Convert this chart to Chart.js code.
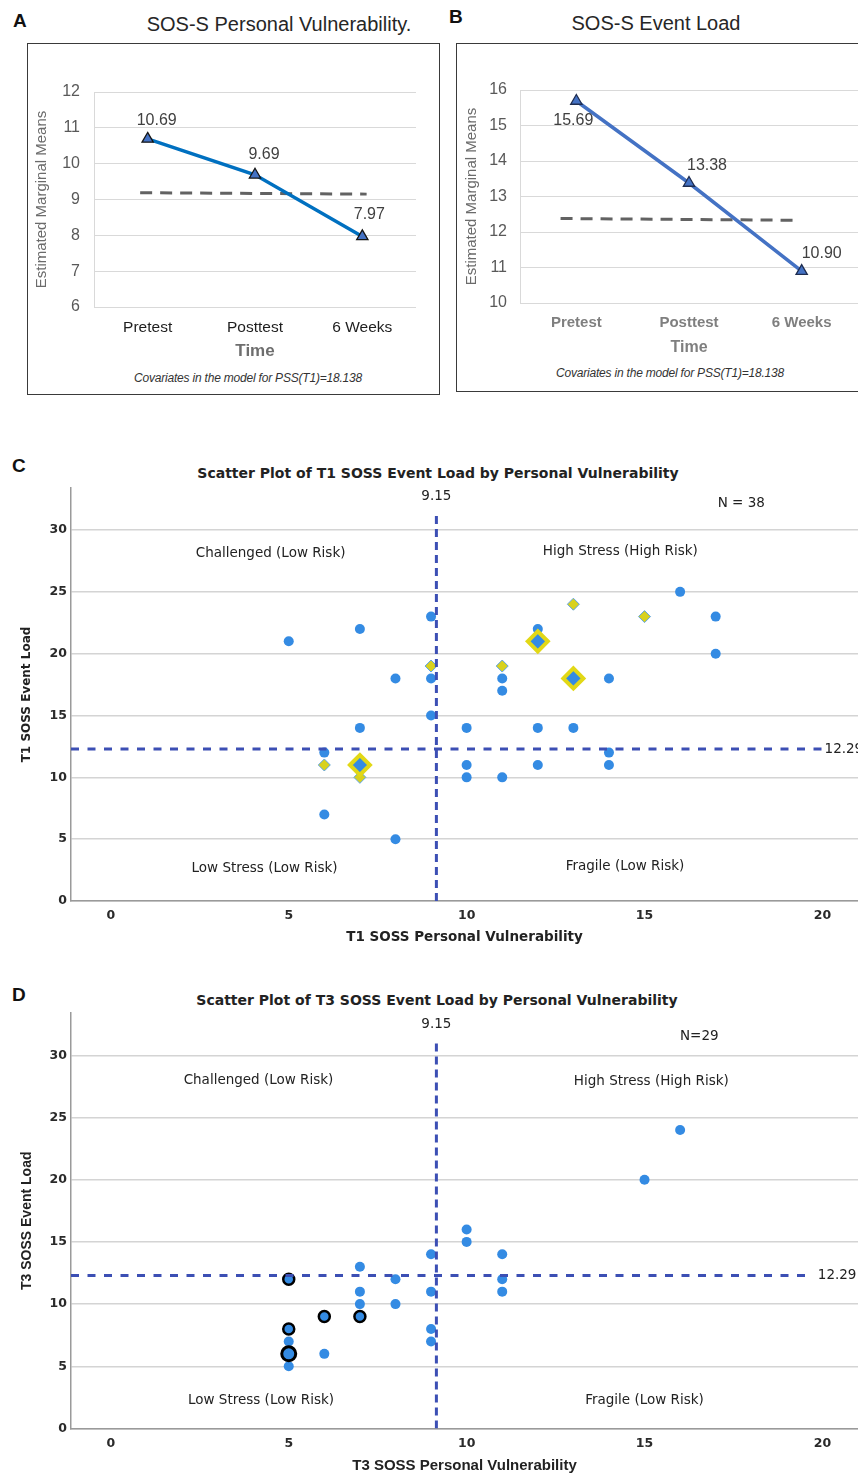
<!DOCTYPE html>
<html>
<head>
<meta charset="utf-8">
<script src="https://cdn.jsdelivr.net/npm/chart.js@4.4.1/dist/chart.umd.min.js"></script>
<style>
html, body { margin: 0; padding: 0; overflow: hidden; background: #fff; }
body { width: 858px; height: 1482px; position: relative; font-family: "Liberation Sans", Arial, sans-serif; }
canvas { position: absolute; }
.box { position: absolute; border: 1.5px solid #3a3a3a; box-sizing: border-box; }
.txt { position: absolute; transform: translate(-50%, -50%); white-space: nowrap; color: #222; }
.letter { position: absolute; font: bold 19px "Liberation Sans", Arial, sans-serif; color: #111; }
.ptitle { font-size: 20px; color: #262626; }
.cov { font-size: 12px; font-style: italic; color: #333; letter-spacing: -0.2px; }
.stitle { font: bold 14px "DejaVu Sans", sans-serif; color: #222; }
</style>
</head>
<body>

<div class="box" style="left:27px;top:43px;width:413px;height:352px"></div>
<div class="box" style="left:456px;top:43px;width:430px;height:349px"></div>

<div class="letter" style="left:13px;top:10px">A</div>
<div class="letter" style="left:449px;top:6px">B</div>
<div class="letter" style="left:12px;top:455px">C</div>
<div class="letter" style="left:12px;top:984px">D</div>

<div class="txt ptitle" style="left:279px;top:24px">SOS-S Personal Vulnerability.</div>
<div class="txt ptitle" style="left:656px;top:23px">SOS-S Event Load</div>
<div class="txt cov" style="left:248px;top:378px">Covariates in the model for PSS(T1)=18.138</div>
<div class="txt cov" style="left:670px;top:373px">Covariates in the model for PSS(T1)=18.138</div>
<div class="txt stitle" style="left:438px;top:473px">Scatter Plot of T1 SOSS Event Load by Personal Vulnerability</div>
<div class="txt stitle" style="left:437px;top:1000px">Scatter Plot of T3 SOSS Event Load by Personal Vulnerability</div>

<canvas id="chartA" width="410" height="350" style="left:28px;top:44px"></canvas>
<canvas id="chartB" width="401" height="346" style="left:457px;top:44px"></canvas>
<canvas id="chartC" width="858" height="490" style="left:0px;top:470px"></canvas>
<canvas id="chartD" width="858" height="487" style="left:0px;top:995px"></canvas>

<script>
// panels A and B: estimated marginal means
const timeLabels = ['Pretest', 'Posttest', '6 Weeks']
const vulnMeans = [10.69, 9.69, 7.97]
const loadMeans = [15.69, 13.38, 10.90]
// dashed reference lines (value at left end, right end)
const vulnRef = [9.19, 9.15]
const loadRef = [12.38, 12.33]
const ticksA = [6, 7, 8, 9, 10, 11, 12]
const ticksB = [10, 11, 12, 13, 14, 15, 16]

// panel C: T1 scatter (personal vulnerability, event load)
const t1Circles = [[5,21],[6,12],[6,7],[7,22],[7,14],[8,18],[8,5],[9,23],[9,18],[9,15],
  [10,14],[10,11],[10,10],[11,18],[11,17],[11,10],[12,22],[12,14],[12,11],[13,14],
  [14,18],[14,12],[14,11],[16,25],[17,23],[17,20]]
const t1Diamonds = [[6,11],[7,10],[9,19],[11,19],[13,24],[15,23]]
const t1BigDiamonds = [[7,11],[12,21],[13,18]]

// panel D: T3 scatter
const t3Circles = [[5,7],[5,5],[6,6],[7,13],[7,11],[7,10],[8,12],[8,10],[9,14],[9,11],
  [9,8],[9,7],[10,16],[10,15],[11,14],[11,12],[11,11],[15,20],[16,24]]
const t3Rings = [[5,12],[5,8],[6,9],[7,9]]
const t3BigRings = [[5,6]]

const pvMean = 9.15
const elMean = 12.29
const scatterTicksX = [0, 5, 10, 15, 20]
const scatterTicksY = [0, 5, 10, 15, 20, 25, 30]

Chart.defaults.font.family = '"Liberation Sans", Arial, sans-serif'

const pts = arr => arr.map(p => ({x: p[0], y: p[1]}))
const fixTicks = list => s => { s.ticks = list.map(v => ({value: v})) }
// force axis size and drop the edge padding chart.js adds for labels
const fitX = h => s => { s.height = h; s.paddingLeft = 0; s.paddingRight = 0 }
const fitY = w => s => { s.width = w; s.paddingTop = 0; s.paddingBottom = 0 }

// value labels next to the mean markers
const valueLabels = {
  id: 'valueLabels',
  afterDatasetsDraw(chart, args, opts) {
    const ctx = chart.ctx
    const meta = chart.getDatasetMeta(0)
    ctx.save()
    ctx.font = opts.font
    ctx.fillStyle = opts.color
    ctx.textAlign = 'center'
    ctx.textBaseline = 'middle'
    meta.data.forEach((pt, i) => {
      const v = chart.data.datasets[0].data[i]
      ctx.fillText(v.toFixed(2), pt.x + opts.offsets[i][0], pt.y + opts.offsets[i][1])
    })
    ctx.restore()
  }
}

// text placed in data coordinates of a scatter
const plotText = {
  id: 'plotText',
  afterDatasetsDraw(chart, args, opts) {
    const {ctx, scales} = chart
    ctx.save()
    ctx.fillStyle = opts.color
    ctx.textBaseline = 'middle'
    opts.items.forEach(it => {
      ctx.font = opts.font
      ctx.textAlign = it.align || 'center'
      ctx.fillText(it.text, scales.x.getPixelForValue(it.x), scales.y.getPixelForValue(it.y))
    })
    ctx.restore()
  }
}

function meansChart(id, values, ref, refSpan, yTicks, o) {
  return new Chart(document.getElementById(id), {
    type: 'line',
    data: {
      labels: timeLabels,
      datasets: [
        {
          xAxisID: 'x',
          data: values,
          borderColor: o.lineColor,
          borderWidth: 3.5,
          tension: 0,
          pointStyle: 'triangle',
          pointRadius: 6.5,
          pointBackgroundColor: '#4472c4',
          pointBorderColor: o.markerEdge,
          pointBorderWidth: 1.3
        },
        {
          xAxisID: 'xr',
          data: [{x: refSpan[0], y: ref[0]}, {x: refSpan[1], y: ref[1]}],
          borderColor: '#626262',
          borderWidth: 3,
          borderDash: [12, 8],
          pointRadius: 0
        }
      ]
    },
    options: {
      responsive: false,
      animation: false,
      events: [],
      layout: {autoPadding: false, padding: {top: o.padTop, right: o.padRight, left: 0, bottom: 0}},
      plugins: {
        legend: {display: false},
        tooltip: {enabled: false},
        valueLabels: {offsets: o.labelOffsets, font: '16px "Liberation Sans"', color: '#404040'}
      },
      scales: {
        x: {
          type: 'category',
          offset: true,
          grid: {display: false, drawTicks: false},
          border: {display: false},
          ticks: {color: o.xTickColor, font: o.xTickFont, padding: 11},
          title: {display: true, text: 'Time', color: o.timeColor, font: o.timeFont, padding: {top: 0, bottom: o.timePad}},
          afterFit: fitX(o.xHeight)
        },
        xr: {type: 'linear', display: false, min: 0, max: 3},
        y: {
          min: yTicks[0],
          max: yTicks[yTicks.length - 1],
          afterBuildTicks: fixTicks(yTicks),
          grid: {color: '#d9d9d9', drawTicks: false},
          border: {color: '#d9d9d9'},
          ticks: {color: '#595959', font: {size: 16}, padding: o.yTickPad},
          title: {display: true, text: 'Estimated Marginal Means', color: '#6b6b6b', font: {size: 15}, padding: {top: o.yTitlePad}},
          afterFit: fitY(o.yWidth)
        }
      }
    },
    plugins: [valueLabels]
  })
}

meansChart('chartA', vulnMeans, vulnRef, [0.43, 2.54], ticksA, {
  lineColor: 'rgb(0,112,192)', markerEdge: '#151515',
  padTop: 48, padRight: 22, xHeight: 87, yWidth: 66, yTickPad: 14, yTitlePad: 4.5,
  xTickColor: '#1e1e1e', xTickFont: {size: 15.5},
  timeColor: '#6e6e6e', timeFont: {size: 17, weight: 'bold'}, timePad: 32,
  labelOffsets: [[9, -18], [9, -20], [7, -22]]
})

meansChart('chartB', loadMeans, loadRef, [0.36, 2.46], ticksB, {
  lineColor: '#4472c4', markerEdge: '#1f2d50',
  padTop: 46, padRight: 0, xHeight: 87, yWidth: 63, yTickPad: 13, yTitlePad: 5.7,
  xTickColor: '#7f7f7f', xTickFont: {size: 15, weight: 'bold'},
  timeColor: '#7f7f7f', timeFont: {size: 16, weight: 'bold'}, timePad: 33,
  labelOffsets: [[-3, 20], [18, -17], [20, -17]]
})

function scatterChart(id, sets, o) {
  const refColor = '#3c4fb4'
  const datasets = [
    {
      data: [{x: pvMean, y: 0}, {x: pvMean, y: o.vTop}],
      showLine: true, borderColor: refColor, borderWidth: 3, borderDash: [8, 5], pointRadius: 0
    },
    {
      data: [{x: o.xMin, y: elMean}, {x: o.hEnd, y: elMean}],
      showLine: true, borderColor: refColor, borderWidth: 3, borderDash: [8, 8.5], pointRadius: 0
    }
  ].concat(sets)
  return new Chart(document.getElementById(id), {
    type: 'scatter',
    data: {datasets: datasets},
    options: {
      responsive: false,
      animation: false,
      events: [],
      layout: {autoPadding: false, padding: {top: o.padTop, right: 0, left: 0, bottom: 0}},
      plugins: {
        legend: {display: false},
        tooltip: {enabled: false},
        plotText: {items: o.texts, font: '13.5px "DejaVu Sans"', color: '#222'}
      },
      scales: {
        x: {
          type: 'linear',
          min: o.xMin,
          max: 21,
          afterBuildTicks: fixTicks(scatterTicksX),
          grid: {display: false, drawTicks: false},
          border: {color: '#9a9a9a', width: 1.5},
          ticks: {color: '#2a2a2a', font: {family: '"DejaVu Sans"', size: 12.5, weight: 'bold'}, padding: o.xTickPad},
          title: {display: true, text: o.xTitle, color: '#222', font: o.xTitleFont, padding: {top: 0, bottom: o.xTitlePad}},
          afterFit: fitX(o.xHeight)
        },
        y: {
          min: 0,
          max: 33.4,
          afterBuildTicks: fixTicks(scatterTicksY),
          grid: {color: '#d4d4d4', lineWidth: 1.5, drawTicks: false},
          border: {color: '#9a9a9a', width: 1.5},
          ticks: {color: '#2a2a2a', font: {family: '"DejaVu Sans"', size: 12.5, weight: 'bold'}, padding: 4},
          title: {display: true, text: o.yTitle, color: '#222', font: o.yTitleFont, padding: {top: o.yTitlePad}},
          afterFit: fitY(71)
        }
      }
    },
    plugins: [plotText]
  })
}

const blue = '#348be3'

scatterChart('chartC', [
  {data: pts(t1BigDiamonds), pointStyle: 'rectRot', pointRadius: 10, pointBackgroundColor: blue, pointBorderColor: '#e2d816', pointBorderWidth: 4},
  {data: pts(t1Diamonds), pointStyle: 'rectRot', pointRadius: 6, pointBackgroundColor: '#d8d11e', pointBorderColor: '#5ca3e6', pointBorderWidth: 1},
  {data: pts(t1Circles), pointRadius: 5, pointBackgroundColor: blue, pointBorderWidth: 0}
], {
  padTop: 18, xHeight: 59, xMin: -1.12, vTop: 31.45, hEnd: 20.05, xTickPad: 7,
  xTitle: 'T1 SOSS Personal Vulnerability', xTitleFont: {family: '"DejaVu Sans"', size: 13.5, weight: 'bold'}, xTitlePad: 14.7,
  yTitle: 'T1 SOSS Event Load', yTitleFont: {family: '"DejaVu Sans"', size: 12, weight: 'bold'}, yTitlePad: 19.5,
  texts: [
    {text: 'Challenged (Low Risk)', x: 4.49, y: 28.1},
    {text: 'High Stress (High Risk)', x: 14.32, y: 28.24},
    {text: 'Low Stress (Low Risk)', x: 4.32, y: 2.59},
    {text: 'Fragile (Low Risk)', x: 14.45, y: 2.77},
    {text: 'N = 38', x: 17.72, y: 32.14},
    {text: pvMean.toFixed(2), x: pvMean, y: 32.7},
    {text: elMean.toFixed(2), x: 20.06, y: elMean, align: 'left'}
  ]
})

scatterChart('chartD', [
  {data: pts(t3BigRings), pointRadius: 7, pointBackgroundColor: blue, pointBorderColor: '#000', pointBorderWidth: 3},
  {data: pts(t3Rings), pointRadius: 5.5, pointBackgroundColor: blue, pointBorderColor: '#000', pointBorderWidth: 2.5},
  {data: pts(t3Circles), pointRadius: 5, pointBackgroundColor: blue, pointBorderWidth: 0}
], {
  padTop: 18, xHeight: 53.5, xMin: -1.12, vTop: 31.07, hEnd: 19.55, xTickPad: 8,
  xTitle: 'T3 SOSS Personal Vulnerability', xTitleFont: {size: 15, weight: 'bold'}, xTitlePad: 7,
  yTitle: 'T3 SOSS Event Load', yTitleFont: {size: 14, weight: 'bold'}, yTitlePad: 18.3,
  texts: [
    {text: 'Challenged (Low Risk)', x: 4.15, y: 28.0},
    {text: 'High Stress (High Risk)', x: 15.19, y: 27.93},
    {text: 'Low Stress (Low Risk)', x: 4.22, y: 2.29},
    {text: 'Fragile (Low Risk)', x: 15.0, y: 2.23},
    {text: 'N=29', x: 16.54, y: 31.5},
    {text: pvMean.toFixed(2), x: pvMean, y: 32.5},
    {text: elMean.toFixed(2), x: 19.87, y: elMean, align: 'left'}
  ]
})
</script>
</body>
</html>
